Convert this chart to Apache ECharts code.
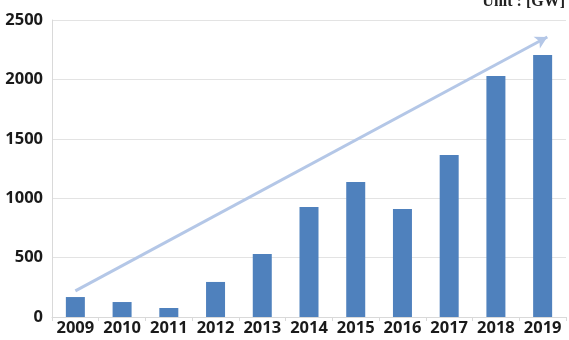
<!DOCTYPE html>
<html><head><meta charset="utf-8">
<script src="https://cdn.jsdelivr.net/npm/echarts@6/dist/echarts.min.js"></script>
<style>html,body{margin:0;padding:0;background:#fff}#c{width:569px;height:340px}</style>
</head><body><div id="c"></div>
<script>
const years = ['2009','2010','2011','2012','2013','2014','2015','2016','2017','2018','2019'];
const capacity = [168, 126, 76, 295, 530, 926, 1136, 910, 1364, 2028, 2205];
const yTicks = [0, 500, 1000, 1500, 2000, 2500];
const trendStart = [0, 220];
const trendEnd = [10.1, 2357];
const unitText = 'Unit : [GW]';

const chart = echarts.init(document.getElementById('c'), null, {renderer: 'canvas'});
chart.setOption({
  animation: false,
  grid: {left: 52, right: 3, top: 20, bottom: 23, containLabel: false},
  graphic: [{type: 'text', right: 4, top: -6, style: {text: unitText, font: 'bold 16px "Liberation Serif", serif', fill: '#222'}}],
  xAxis: [{
    type: 'category', data: years,
    axisLine: {onZero: false, lineStyle: {color: '#d9d9d9', width: 1}},
    axisTick: {show: true, length: 4, lineStyle: {color: '#d9d9d9'}},
    axisLabel: {interval: 0, hideOverlap: false, color: '#1a1a1a', fontWeight: 'bold', fontSize: 16.5, fontFamily: '"Open Sans", sans-serif', margin: 3}
  }, {
    type: 'value', min: -0.5, max: 10.5, show: false
  }],
  yAxis: {
    type: 'value', min: 0, max: 2500, interval: 500,
    axisLine: {show: true, onZero: false, lineStyle: {color: '#d9d9d9'}},
    axisTick: {show: false},
    splitLine: {lineStyle: {color: '#e3e3e3', width: 1}},
    axisLabel: {color: '#1a1a1a', fontWeight: 'bold', fontSize: 16.5, fontFamily: '"Open Sans", sans-serif', margin: 9,
      formatter: v => yTicks.includes(v) ? String(v) : ''}
  },
  series: [{
    type: 'bar', data: capacity, barWidth: 19, itemStyle: {color: '#4f81bd'}
  }, {
    type: 'line', xAxisIndex: 1, data: [], silent: true,
    markLine: {
      silent: true, symbol: ['none', 'arrow'], symbolSize: [10, 12],
      label: {show: false},
      lineStyle: {color: '#b4c7e7', width: 3, type: 'solid'},
      data: [[{coord: trendStart}, {coord: trendEnd}]]
    }
  }]
});
</script></body></html>
